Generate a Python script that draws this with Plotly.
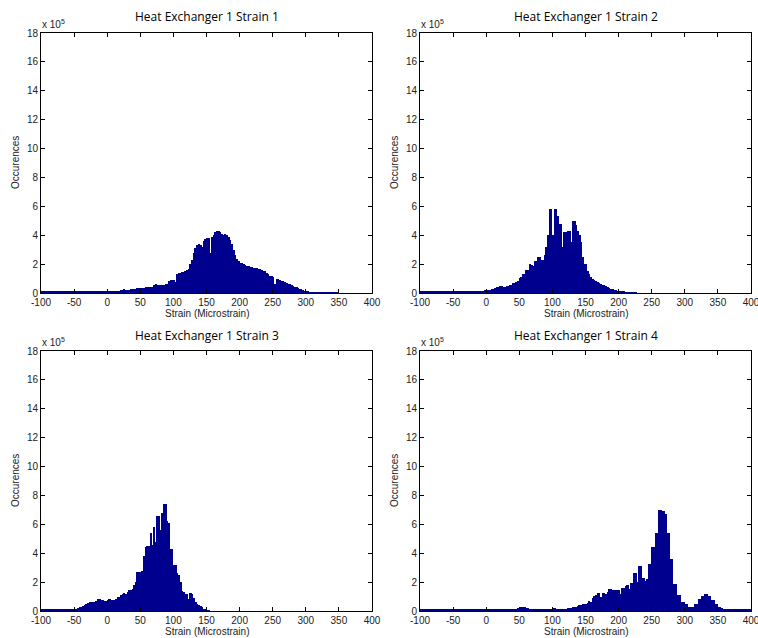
import plotly.graph_objects as go

# ---- data (bin width 2.5 microstrain, from -100 to 400; values in units of 1e5 occurrences)
BIN_START = -100.0
BIN_WIDTH = 2.5

titles = ["Heat Exchanger 1 Strain 1", "Heat Exchanger 1 Strain 2",
          "Heat Exchanger 1 Strain 3", "Heat Exchanger 1 Strain 4"]

x_ticks = [-100, -50, 0, 50, 100, 150, 200, 250, 300, 350, 400]
y_ticks = [0, 2, 4, 6, 8, 10, 12, 14, 16, 18]

strain1 = [
    # -100 .. -50
    0.08, 0.08, 0.08, 0.08, 0.08, 0.08, 0.08, 0.08, 0.08, 0.08, 0.08, 0.08, 0.08, 0.08, 0.08, 0.08, 0.08, 0.08, 0.08, 0.08,
    # -50 .. 0
    0.08, 0.08, 0.08, 0.08, 0.08, 0.08, 0.08, 0.08, 0.08, 0.08, 0.08, 0.08, 0.08, 0.08, 0.08, 0.08, 0.09, 0.09, 0.1, 0.1,
    # 0 .. 50
    0.1, 0.1, 0.12, 0.12, 0.14, 0.15, 0.15, 0.16, 0.18, 0.2, 0.25, 0.22, 0.22, 0.24, 0.25, 0.26, 0.28, 0.3, 0.32, 0.33,
    # 50 .. 100
    0.35, 0.36, 0.38, 0.4, 0.4, 0.42, 0.44, 0.45, 0.55, 0.6, 0.52, 0.54, 0.55, 0.56, 0.58, 0.6, 0.62, 0.8, 0.9, 0.88,
    # 100 .. 150
    0.9, 0.75, 1.35, 1.38, 1.4, 1.42, 1.45, 1.5, 1.6, 1.65, 2.0, 2.3, 2.8, 3.1, 3.35, 3.4, 3.35, 3.2, 3.6, 3.75,
    # 150 .. 200
    3.8, 3.8, 2.8, 3.9, 4.05, 4.2, 4.3, 4.3, 4.2, 4.1, 4.05, 4.1, 4.0, 3.9, 3.7, 3.4, 3.0, 2.6, 2.35, 2.25,
    # 200 .. 250
    2.1, 2.05, 2.0, 1.95, 1.9, 1.85, 1.8, 1.78, 1.75, 1.72, 1.7, 1.68, 1.65, 1.6, 1.55, 1.5, 1.4, 1.3, 1.2, 1.15,
    # 250 .. 300
    1.12, 0.6, 1.0, 0.95, 0.9, 0.85, 0.8, 0.75, 0.7, 0.65, 0.6, 0.55, 0.5, 0.45, 0.4, 0.35, 0.3, 0.25, 0.2, 0.15,
    # 300 .. 350
    0.1, 0.08, 0.06, 0.05, 0.05, 0.05, 0.05, 0.05, 0.05, 0.05, 0.05, 0.05, 0.05, 0.05, 0.05, 0.05, 0.05, 0.05, 0.05, 0.05,
    # 350 .. 400
    0, 0, 0, 0, 0, 0, 0, 0, 0, 0, 0, 0, 0, 0, 0, 0, 0, 0, 0, 0,
]

strain2 = [
    # -100 .. -50
    0.08, 0.08, 0.08, 0.08, 0.08, 0.08, 0.08, 0.08, 0.08, 0.08, 0.08, 0.08, 0.08, 0.08, 0.08, 0.08, 0.08, 0.08, 0.08, 0.08,
    # -50 .. 0
    0.08, 0.08, 0.08, 0.08, 0.08, 0.08, 0.08, 0.08, 0.08, 0.08, 0.08, 0.08, 0.1, 0.1, 0.12, 0.12, 0.14, 0.14, 0.16, 0.18,
    # 0 .. 50
    0.2, 0.2, 0.22, 0.25, 0.3, 0.35, 0.4, 0.4, 0.5, 0.5, 0.45, 0.45, 0.5, 0.5, 0.55, 0.55, 0.7, 0.72, 0.78, 0.8,
    # 50 .. 100
    1.05, 1.1, 1.3, 1.3, 1.6, 1.6, 2.0, 1.95, 1.9, 2.2, 2.2, 2.5, 2.5, 2.3, 2.3, 2.6, 3.2, 4.0, 5.8, 5.8,
    # 100 .. 150
    4.0, 5.85, 5.85, 5.3, 4.8, 4.8, 3.2, 4.2, 4.2, 4.3, 4.3, 3.5, 5.0, 5.0, 4.7, 4.3, 4.0, 3.5, 2.5, 2.0,
    # 150 .. 200
    2.0, 1.5, 1.3, 1.1, 1.0, 0.9, 0.85, 0.75, 0.7, 0.6, 0.55, 0.55, 0.5, 0.4, 0.35, 0.3, 0.25, 0.22, 0.2, 0.15,
    # 200 .. 250
    0.1, 0.1, 0.08, 0.08, 0.06, 0.06, 0.05, 0.05, 0.05, 0.05, 0.04, 0, 0, 0, 0, 0, 0, 0, 0, 0,
    # 250 .. 300
    0, 0, 0, 0, 0, 0, 0, 0, 0, 0, 0, 0, 0, 0, 0, 0, 0, 0, 0, 0,
    # 300 .. 350
    0, 0, 0, 0, 0, 0, 0, 0, 0, 0, 0, 0, 0, 0, 0, 0, 0, 0, 0, 0,
    # 350 .. 400
    0, 0, 0, 0, 0, 0, 0, 0, 0, 0, 0, 0, 0, 0, 0, 0, 0, 0, 0, 0,
]

strain3 = [
    # -100 .. -50
    0.08, 0.08, 0.08, 0.08, 0.08, 0.08, 0.08, 0.08, 0.08, 0.08, 0.08, 0.08, 0.08, 0.08, 0.08, 0.08, 0.08, 0.08, 0.1, 0.12,
    # -50 .. 0
    0.12, 0.15, 0.2, 0.25, 0.3, 0.35, 0.4, 0.5, 0.55, 0.6, 0.6, 0.65, 0.65, 0.7, 0.8, 0.8, 0.78, 0.75, 0.72, 0.72,
    # 0 .. 50
    0.78, 0.8, 0.78, 0.76, 0.75, 0.8, 0.95, 1.0, 1.1, 1.2, 1.25, 1.2, 1.35, 1.45, 1.45, 1.5, 1.8, 2.0, 2.7, 2.7,
    # 50 .. 100
    2.7, 2.8, 3.8, 4.4, 4.5, 4.5, 5.4, 4.6, 5.8, 4.8, 6.6, 6.6, 5.6, 6.8, 7.4, 7.4, 6.2, 6.1, 4.3, 4.3,
    # 100 .. 150
    3.2, 3.2, 2.6, 2.5, 2.0, 1.4, 1.35, 1.2, 1.2, 0.8, 1.25, 1.2, 0.9, 0.6, 0.5, 0.45, 0.35, 0.25, 0.15, 0.1,
    # 150 .. 200
    0.05, 0.03, 0, 0, 0, 0, 0, 0, 0, 0, 0, 0, 0, 0, 0, 0, 0, 0, 0, 0,
    # 200 .. 250
    0, 0, 0, 0, 0, 0, 0, 0, 0, 0, 0, 0, 0, 0, 0, 0, 0, 0, 0, 0,
    # 250 .. 300
    0, 0, 0, 0, 0, 0, 0, 0, 0, 0, 0, 0, 0, 0, 0, 0, 0, 0, 0, 0,
    # 300 .. 350
    0, 0, 0, 0, 0, 0, 0, 0, 0, 0, 0, 0, 0, 0, 0, 0, 0, 0, 0, 0,
    # 350 .. 400
    0, 0, 0, 0, 0, 0, 0, 0, 0, 0, 0, 0, 0, 0, 0, 0, 0, 0, 0, 0,
]

strain4 = [
    # -100 .. -50
    0.08, 0.08, 0.08, 0.08, 0.08, 0.08, 0.08, 0.08, 0.08, 0.08, 0.08, 0.08, 0.08, 0.08, 0.08, 0.08, 0.08, 0.08, 0.08, 0.08,
    # -50 .. 0
    0.08, 0.08, 0.08, 0.08, 0.08, 0.08, 0.08, 0.08, 0.08, 0.08, 0.08, 0.08, 0.08, 0.08, 0.08, 0.08, 0.08, 0.08, 0.08, 0.08,
    # 0 .. 50
    0.08, 0.08, 0.08, 0.08, 0.08, 0.08, 0.08, 0.08, 0.08, 0.08, 0.08, 0.08, 0.08, 0.08, 0.08, 0.08, 0.08, 0.08, 0.12, 0.18,
    # 50 .. 100
    0.22, 0.25, 0.25, 0.25, 0.22, 0.2, 0.15, 0.1, 0.08, 0.08, 0.08, 0.08, 0.08, 0.08, 0.08, 0.08, 0.08, 0.08, 0.08, 0.08,
    # 100 .. 150
    0.2, 0.18, 0.1, 0.1, 0.1, 0.1, 0.1, 0.12, 0.15, 0.18, 0.2, 0.22, 0.25, 0.3, 0.3, 0.35, 0.4, 0.45, 0.5, 0.5,
    # 150 .. 200
    0.5, 0.55, 0.7, 0.6, 0.9, 1.05, 1.1, 1.25, 1.25, 0.95, 1.25, 1.25, 1.2, 1.3, 1.5, 1.5, 1.45, 1.45, 1.45, 1.45,
    # 200 .. 250
    1.45, 1.2, 1.6, 1.6, 1.7, 1.8, 1.5, 1.95, 1.95, 2.65, 2.65, 2.0, 3.15, 3.15, 2.3, 2.3, 2.1, 2.2, 3.25, 3.25,
    # 250 .. 300
    4.4, 4.4, 5.4, 5.4, 7.0, 7.0, 6.9, 6.9, 6.7, 5.4, 5.4, 3.6, 3.6, 1.9, 1.9, 1.1, 1.1, 1.1, 0.65, 0.65,
    # 300 .. 350
    0.5, 0.5, 0.3, 0.3, 0.3, 0.3, 0.5, 0.5, 0.85, 0.85, 1.05, 1.05, 1.2, 1.2, 1.05, 1.05, 0.75, 0.75, 0.5, 0.5,
    # 350 .. 400
    0.3, 0.3, 0.2, 0.15, 0.15, 0.12, 0.12, 0.1, 0.1, 0.1, 0.08, 0.08, 0.08, 0.08, 0.08, 0.08, 0.08, 0.08, 0.08, 0.08,
]

series = [strain1, strain2, strain3, strain4]
bin_centers = [BIN_START + BIN_WIDTH * (i + 0.5) for i in range(len(strain1))]

# ---- layout geometry (paper fractions for a 758x638 canvas)
W, H = 758, 638
boxes = [  # (x0, x1, ytop, ybottom) in pixels
    (41, 372, 33, 293),
    (420, 751, 33, 293),
    (41, 372, 351, 611),
    (420, 751, 351, 611),
]

BAR_COLOR = "#00008F"
fig = go.Figure()
layout = dict(
    width=W, height=H,
    margin=dict(l=0, r=0, t=0, b=0, autoexpand=False),
    paper_bgcolor="white", plot_bgcolor="white",
    showlegend=False, bargap=0,
    annotations=[],
)

tick_font = dict(family="Liberation Sans, Arial, sans-serif", size=10, color="#222")

for k, (vals, title, box) in enumerate(zip(series, titles, boxes)):
    idx = "" if k == 0 else str(k + 1)
    x0, x1, yt, yb = box
    fig.add_trace(go.Bar(
        x=bin_centers, y=vals, width=BIN_WIDTH,
        marker=dict(color=BAR_COLOR, line=dict(width=0)),
        xaxis="x" + idx, yaxis="y" + idx,
    ))
    layout["xaxis" + idx] = dict(
        domain=[x0 / W, x1 / W], anchor="y" + idx, automargin=False,
        range=[-100, 400], tickvals=x_ticks, ticktext=[str(v) for v in x_ticks],
        ticks="inside", ticklen=4, tickcolor="black", ticklabeloverflow="allow",
        showline=True, linecolor="black", linewidth=1, mirror="ticks",
        showgrid=False, zeroline=False, tickfont=tick_font, ticklabelstandoff=0,
    )
    layout["yaxis" + idx] = dict(
        domain=[1 - yb / H, 1 - yt / H], anchor="x" + idx, automargin=False,
        range=[0, 18], tickvals=y_ticks, ticktext=[str(v) for v in y_ticks],
        ticks="inside", ticklen=4, tickcolor="black", ticklabeloverflow="allow",
        showline=True, linecolor="black", linewidth=1, mirror="ticks",
        showgrid=False, zeroline=False, tickfont=tick_font,
    )
    cx = (x0 + x1) / 2 / W
    layout["annotations"].append(dict(
        text=title, xref="paper", yref="paper", x=cx, y=1 - (yt - 16) / H,
        xanchor="center", yanchor="middle", showarrow=False,
        font=dict(family="Open Sans, sans-serif", size=12, color="black"),
    ))
    layout["annotations"].append(dict(
        text="x 10<sup>5</sup>", xref="paper", yref="paper", x=(x0 - 1) / W, y=1 - (yt - 9) / H,
        xanchor="left", yanchor="middle", showarrow=False,
        font=dict(family="Liberation Sans, Arial, sans-serif", size=10, color="#222"),
    ))
    layout["annotations"].append(dict(
        text="Strain (Microstrain)", xref="paper", yref="paper", x=cx, y=1 - (yb + 20) / H,
        xanchor="center", yanchor="middle", showarrow=False,
        font=dict(family="Liberation Sans, Arial, sans-serif", size=10, color="#222"),
    ))
    layout["annotations"].append(dict(
        text="Occurences", xref="paper", yref="paper", x=(x0 - 26) / W, y=1 - ((yt + yb) / 2) / H,
        xanchor="center", yanchor="middle", showarrow=False, textangle=-90,
        font=dict(family="Liberation Sans, Arial, sans-serif", size=10, color="#222"),
    ))

fig.update_layout(**layout)
fig.write_html(
    "out.html",
    config={"displayModeBar": False},
    post_script="document.body.style.margin='0';document.body.style.padding='0';document.body.style.overflow='hidden';",
)
